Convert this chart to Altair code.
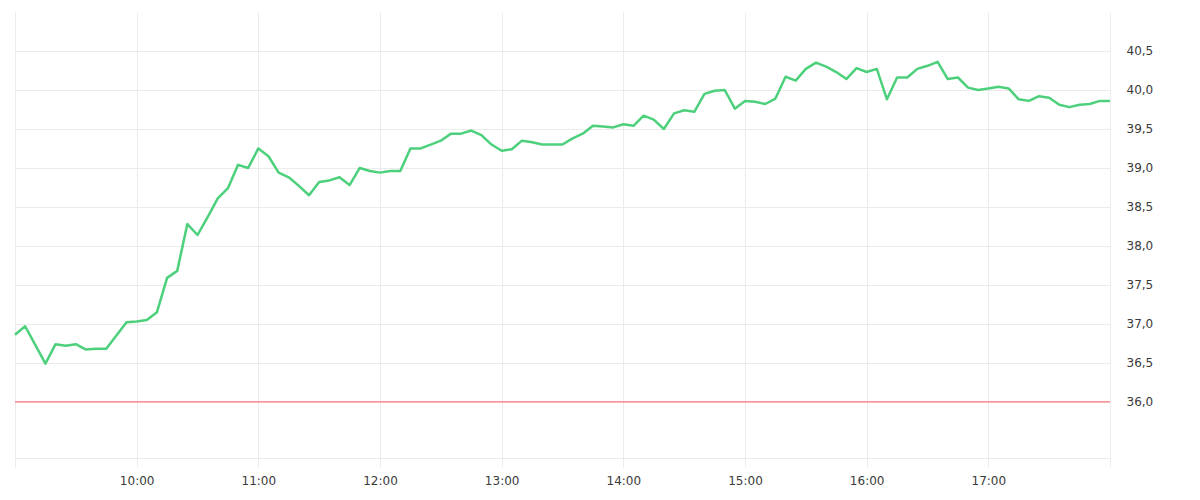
import altair as alt
import pandas as pd

# 5-minute readings from 09:00 to 18:00
times = [f"2024-01-01T{9 + i // 12:02d}:{(i % 12) * 5:02d}:00" for i in range(109)]
values = [
    36.86, 36.97, 36.73, 36.49, 36.74, 36.72, 36.74, 36.67, 36.68, 36.68, 36.85, 37.02,
    37.03, 37.05, 37.15, 37.59, 37.68, 38.28, 38.14, 38.37, 38.61, 38.74, 39.04, 39.00,
    39.25, 39.15, 38.94, 38.88, 38.77, 38.65, 38.82, 38.84, 38.88, 38.78, 39.00, 38.96,
    38.94, 38.96, 38.96, 39.25, 39.25, 39.30, 39.35, 39.44, 39.44, 39.48, 39.42, 39.30,
    39.22, 39.24, 39.35, 39.33, 39.30, 39.30, 39.30, 39.38, 39.44, 39.54, 39.53, 39.52,
    39.56, 39.54, 39.67, 39.62, 39.50, 39.70, 39.74, 39.72, 39.95, 39.99, 40.00, 39.76,
    39.86, 39.85, 39.82, 39.89, 40.17, 40.12, 40.27, 40.35, 40.30, 40.23, 40.14, 40.28,
    40.23, 40.27, 39.88, 40.16, 40.16, 40.27, 40.31, 40.36, 40.14, 40.16, 40.03, 40.00,
    40.02, 40.04, 40.02, 39.88, 39.86, 39.92, 39.90, 39.81, 39.78, 39.81, 39.82, 39.86,
    39.86,
]
threshold = [36.0]
y_ticks = [36.0, 36.5, 37.0, 37.5, 38.0, 38.5, 39.0, 39.5, 40.0, 40.5]
hour_ticks = [9, 10, 11, 12, 13, 14, 15, 16, 17, 18]

df = pd.DataFrame({"t": times, "v": values})
thr = pd.DataFrame({"v": threshold})

GRID = "#ebebeb"

x_scale = alt.Scale(domain=[alt.DateTime(year=2024, month=1, date=1, hours=9),
                            alt.DateTime(year=2024, month=1, date=1, hours=18)])
y_scale = alt.Scale(domain=[35.28, 41.0], nice=False, zero=False)

y_axis = alt.Axis(orient="right", values=y_ticks,
                  labelExpr="replace(format(datum.value, '.1f'), '.', ',')",
                  grid=True, gridColor=GRID, domain=False, ticks=False,
                  labelPadding=16, labelFont="DejaVu Sans", labelFontSize=12,
                  labelColor="#3a3a3a")

line = alt.Chart(df).mark_line(color="#4dd07c", strokeWidth=2.5, strokeJoin="round").encode(
    x=alt.X("t:T", scale=x_scale, title=None,
            axis=alt.Axis(values=[alt.DateTime(year=2024, month=1, date=1, hours=h) for h in hour_ticks],
                          format="%H:%M",
                          labelExpr="hours(datum.value) == 9 || hours(datum.value) == 18 ? '' : datum.label",
                          grid=True, gridColor=GRID, domain=True, domainColor=GRID,
                          ticks=True, tickColor=GRID, tickSize=9, labelPadding=8,
                          labelFont="DejaVu Sans", labelFontSize=12, labelColor="#3a3a3a")),
    y=alt.Y("v:Q", scale=y_scale, title=None, axis=y_axis),
)

rule = alt.Chart(thr).mark_rule(color="#ff5a5f", strokeWidth=1).encode(
    y=alt.Y("v:Q", scale=y_scale, title=None, axis=y_axis)
)

chart = alt.layer(rule, line).properties(
    width=1095, height=446,
    background="white",
    padding={"left": 5, "top": 4, "right": 5, "bottom": 5},
).configure_view(strokeWidth=0, stroke="transparent")

chart.save("out.html", embed_options={"renderer": "svg", "actions": False})
